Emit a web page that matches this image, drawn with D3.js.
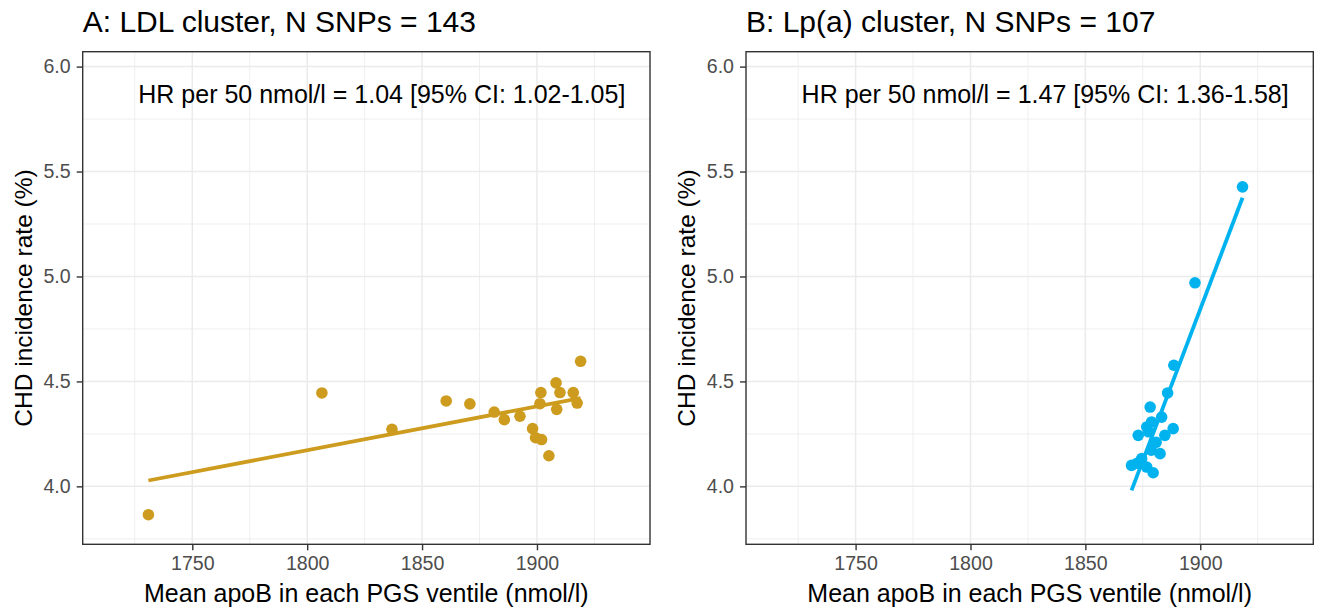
<!DOCTYPE html>
<html>
<head>
<meta charset="utf-8">
<script src="https://cdn.jsdelivr.net/npm/d3@7"></script>
<style>
  body { margin: 0; background: #fff; }
  text { font-family: "Liberation Sans", Arial, Helvetica, sans-serif; }
</style>
</head>
<body>
<div class="charts"></div>
<script>
// ventile means
var ldlX = [1730.9, 1806.4, 1836.9, 1860.5, 1870.8, 1881.4, 1885.8, 1892.6, 1898.1, 1899.4,
            1901.3, 1901.7, 1902.0, 1905.2, 1908.3, 1908.6, 1910.0, 1915.8, 1917.5, 1919.0];
var ldlY = [3.865, 4.445, 4.272, 4.407, 4.393, 4.354, 4.318, 4.334, 4.275, 4.232,
            4.394, 4.447, 4.223, 4.146, 4.493, 4.367, 4.447, 4.447, 4.397, 4.596];

var lpaX = [1870.1, 1872.5, 1873.0, 1874.5, 1876.7, 1876.7, 1877.5, 1878.2, 1878.7, 1878.8,
            1879.5, 1880.8, 1882.5, 1883.2, 1884.6, 1885.8, 1888.2, 1888.5, 1897.7, 1918.4];
var lpaY = [4.100, 4.110, 4.243, 4.132, 4.283, 4.092, 4.260, 4.378, 4.172, 4.307,
            4.065, 4.210, 4.156, 4.330, 4.243, 4.445, 4.275, 4.577, 4.970, 5.427];

// lm fit lines (ends)
var fitAX = [1730.9, 1919.0];
var fitAY = [4.028, 4.421];
var fitBX = [1870.1, 1918.4];
var fitBY = [3.981, 5.375];

var xTicks = [1750, 1800, 1850, 1900];
var xMinor = [1725, 1775, 1825, 1875, 1925];
var yTicks = [4.0, 4.5, 5.0, 5.5, 6.0];
var yMinor = [3.75, 4.25, 4.75, 5.25, 5.75];

var titles = ["A: LDL cluster, N SNPs = 143", "B: Lp(a) cluster, N SNPs = 107"];
var hrLabels = ["HR per 50 nmol/l = 1.04 [95% CI: 1.02-1.05]",
                "HR per 50 nmol/l = 1.47 [95% CI: 1.36-1.58]"];
var xTitle = "Mean apoB in each PGS ventile (nmol/l)";
var yTitle = "CHD incidence rate (%)";

var W = 1321, H = 609;
var svg = d3.select('.charts').append('svg')
  .attr('width', W).attr('height', H);

var pw = 567.3, ph = 492.6, panelTop = 51.7;
var x = d3.scaleLinear().domain([1702.3, 1949.2]).range([0, pw]);
var y = d3.scaleLinear().domain([3.724, 6.071]).range([ph, 0]);

function panel(left, i, xs, ys, fx, fy, col) {
  var g = svg.append('g').attr('transform', 'translate(' + left + ',' + panelTop + ')');

  // grid
  g.selectAll('.xmin').data(xMinor).enter().append('line')
    .attr('x1', x).attr('x2', x).attr('y1', 0).attr('y2', ph)
    .attr('stroke', '#ebebeb').attr('stroke-width', 0.8);
  g.selectAll('.ymin').data(yMinor).enter().append('line')
    .attr('y1', y).attr('y2', y).attr('x1', 0).attr('x2', pw)
    .attr('stroke', '#ebebeb').attr('stroke-width', 0.8);
  g.selectAll('.xmaj').data(xTicks).enter().append('line')
    .attr('x1', x).attr('x2', x).attr('y1', 0).attr('y2', ph)
    .attr('stroke', '#ebebeb').attr('stroke-width', 1.5);
  g.selectAll('.ymaj').data(yTicks).enter().append('line')
    .attr('y1', y).attr('y2', y).attr('x1', 0).attr('x2', pw)
    .attr('stroke', '#ebebeb').attr('stroke-width', 1.5);

  // fit line
  g.append('line')
    .attr('x1', x(fx[0])).attr('y1', y(fy[0]))
    .attr('x2', x(fx[1])).attr('y2', y(fy[1]))
    .attr('stroke', col).attr('stroke-width', 3.8);

  // points
  g.selectAll('circle').data(xs).enter().append('circle')
    .attr('cx', function(d) { return x(d); })
    .attr('cy', function(d, j) { return y(ys[j]); })
    .attr('r', 5.8)
    .attr('fill', col);

  // border
  g.append('rect').attr('width', pw).attr('height', ph)
    .attr('fill', 'none').attr('stroke', '#333').attr('stroke-width', 1.4);

  // axes
  var xa = g.append('g').attr('transform', 'translate(0,' + ph + ')')
    .call(d3.axisBottom(x).tickValues(xTicks).tickSize(6).tickPadding(6).tickFormat(d3.format('d')));
  var ya = g.append('g')
    .call(d3.axisLeft(y).tickValues(yTicks).tickSize(6).tickPadding(6).tickFormat(d3.format('.1f')));
  [xa, ya].forEach(function(a) {
    a.select('.domain').remove();
    a.selectAll('line').attr('stroke', '#333').attr('stroke-width', 1.4);
    a.selectAll('text').attr('fill', '#4d4d4d').style('font-size', '19.6px')
      .style('font-family', '"Liberation Sans", Arial, sans-serif');
  });

  // annotation
  g.append('text').attr('x', x(1726.5)).attr('y', 51.6)
    .style('font-size', '25px').attr('fill', '#000').text(hrLabels[i]);

  // titles
  g.append('text').attr('x', 0).attr('y', -20)
    .style('font-size', '30px').attr('fill', '#000').text(titles[i]);
  g.append('text').attr('x', pw / 2).attr('y', ph + 57.4)
    .attr('text-anchor', 'middle').style('font-size', '25px').text(xTitle);
  g.append('text')
    .attr('transform', 'translate(' + (-59.5) + ',' + (ph / 2) + ') rotate(-90)')
    .attr('text-anchor', 'middle').attr('dy', '0.35em')
    .style('font-size', '24.5px').text(yTitle);
}

panel(82.7, 0, ldlX, ldlY, fitAX, fitAY, '#CD9B1D');
panel(746, 1, lpaX, lpaY, fitBX, fitBY, '#00B2EE');
</script>
</body>
</html>
